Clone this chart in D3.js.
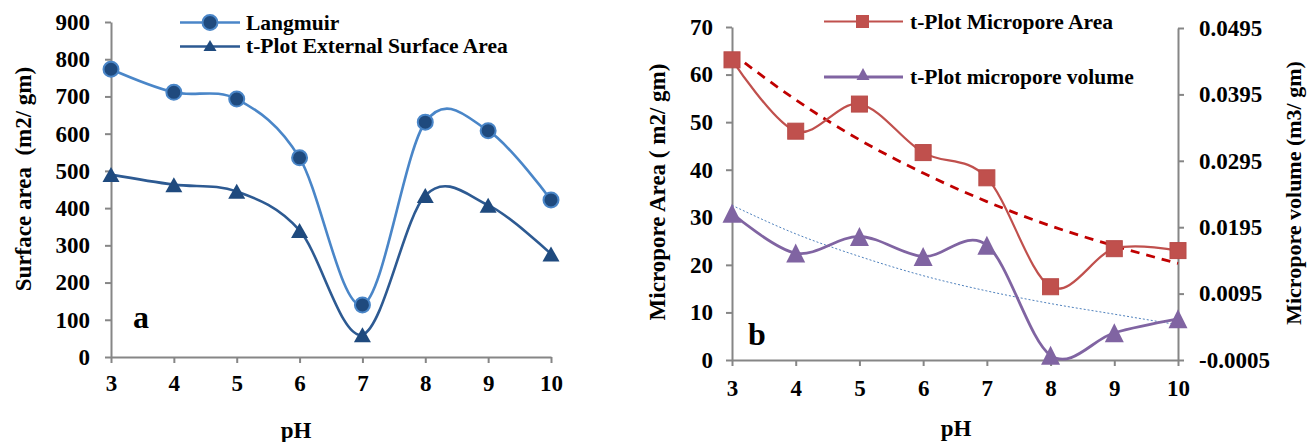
<!DOCTYPE html>
<html>
<head>
<meta charset="utf-8">
<script src="https://cdn.jsdelivr.net/npm/d3@7"></script>
<style>
  body { margin: 0; background: #fff; }
  svg text { font-family: "Liberation Serif", "Times New Roman", serif; font-weight: bold; fill: #000; white-space: pre; }
  .axis path, .axis line { stroke: #868686; stroke-width: 2; }
  .axis text { font-size: 23px; }
</style>
</head>
<body>
<svg id="chart" width="1308" height="442"></svg>
<script>
"use strict";

// shared categories
var pH = [3, 4, 5, 6, 7, 8, 9, 10];

// panel a
var langmuir = [773, 711, 693, 535, 140, 631, 608, 422];
var tPlotExternal = [490, 463, 445, 340, 60, 434, 408, 277];
var areaTicks = [0, 100, 200, 300, 400, 500, 600, 700, 800, 900];

// panel b
var microArea = [63.1, 48.1, 53.8, 43.6, 38.3, 15.4, 23.4, 23.0];
var microVolume = [0.0216, 0.0156, 0.0181, 0.0151, 0.0168, 0.0002, 0.0036, 0.0057];
var areaTrend = [64.5, 54.7, 46.3, 39.3, 33.3, 28.2, 24.0, 20.3];
var volumeTrend = [0.0228, 0.0185, 0.0151, 0.0122, 0.0099, 0.0080, 0.0064, 0.0048];
var microAreaTicks = [0, 10, 20, 30, 40, 50, 60, 70];
var volumeTicks = [-0.0005, 0.0095, 0.0195, 0.0295, 0.0395, 0.0495];

var svg = d3.select("#chart");
var smooth = d3.curveCatmullRom.alpha(0);
var fmtInt = d3.format("d");
var fmtVol = function (d) { return d3.format(".4f")(d).replace("\u2212", "-"); };

// triangle centred on its bounding box, like the spreadsheet markers
var triangle = function (cx, cy, w, h) {
  return "M" + cx + "," + (cy - h / 2) + "L" + (cx + w / 2) + "," + (cy + h / 2) + "L" + (cx - w / 2) + "," + (cy + h / 2) + "Z";
};

/* ---------- panel a ---------- */
var xa = d3.scaleLinear().domain([3, 10]).range([111, 551]);
var ya = d3.scaleLinear().domain([0, 900]).range([357, 22]);

svg.append("g").attr("class", "axis").attr("transform", "translate(0,357)")
  .call(d3.axisBottom(xa).tickValues(pH).tickFormat(fmtInt).tickSize(6).tickSizeOuter(0).tickPadding(12));
svg.append("g").attr("class", "axis").attr("transform", "translate(111,0)")
  .call(d3.axisLeft(ya).tickValues(areaTicks).tickFormat(fmtInt).tickSize(6).tickSizeOuter(0).tickPadding(15));

var lineA = function (vals) {
  return d3.line().x(function (d, i) { return xa(pH[i]); }).y(function (d) { return ya(d); }).curve(smooth)(vals);
};

svg.append("path").attr("d", lineA(tPlotExternal)).attr("fill", "none").attr("stroke", "#2d5a92").attr("stroke-width", 2.6);
svg.append("path").attr("d", lineA(langmuir)).attr("fill", "none").attr("stroke", "#4a86c8").attr("stroke-width", 2.6);

svg.selectAll(".tri-a").data(tPlotExternal).enter().append("path").attr("class", "tri-a")
  .attr("d", function (d, i) { return triangle(xa(pH[i]), ya(d), 17, 15); })
  .attr("fill", "#1f4a7e");
svg.selectAll(".circ-a").data(langmuir).enter().append("circle").attr("class", "circ-a")
  .attr("cx", function (d, i) { return xa(pH[i]); }).attr("cy", function (d) { return ya(d); })
  .attr("r", 7.5).attr("fill", "#1f4a7e").attr("stroke", "#4a86c8").attr("stroke-width", 2);

// legend a
svg.append("line").attr("x1", 180).attr("x2", 240).attr("y1", 22.5).attr("y2", 22.5).attr("stroke", "#4a86c8").attr("stroke-width", 2.6);
svg.append("circle").attr("cx", 210).attr("cy", 22.5).attr("r", 7.5).attr("fill", "#1f4a7e").attr("stroke", "#4a86c8").attr("stroke-width", 2);
svg.append("text").attr("x", 246).attr("y", 30).style("font-size", "21.5px").text("Langmuir");
svg.append("line").attr("x1", 180).attr("x2", 240).attr("y1", 46.5).attr("y2", 46.5).attr("stroke", "#2d5a92").attr("stroke-width", 2.6);
svg.append("path").attr("d", triangle(210, 45.5, 13, 11)).attr("fill", "#1f4a7e");
svg.append("text").attr("x", 246).attr("y", 53).style("font-size", "21.5px").text("t-Plot External Surface Area");

svg.append("text").attr("x", 133).attr("y", 328).style("font-size", "32px").text("a");
svg.append("text").attr("text-anchor", "middle").attr("x", 296).attr("y", 438).style("font-size", "23px").text("pH");
svg.append("text").attr("text-anchor", "middle").attr("transform", "translate(31,179) rotate(-90)")
  .style("font-size", "23px").text("Surface area  (m2/ gm)");

/* ---------- panel b ---------- */
var xb = d3.scaleLinear().domain([3, 10]).range([732, 1178]);
var yb = d3.scaleLinear().domain([0, 70]).range([360, 27]);
var yv = d3.scaleLinear().domain([-0.0005, 0.0495]).range([360, 28]);

svg.append("g").attr("class", "axis").attr("transform", "translate(0,360)")
  .call(d3.axisBottom(xb).tickValues(pH).tickFormat(fmtInt).tickSize(6).tickSizeOuter(0).tickPadding(14));
svg.append("g").attr("class", "axis").attr("transform", "translate(732,0)")
  .call(d3.axisLeft(yb).tickValues(microAreaTicks).tickFormat(fmtInt).tickSize(6).tickSizeOuter(0).tickPadding(13));
svg.append("g").attr("class", "axis").attr("transform", "translate(1178,0)")
  .call(d3.axisRight(yv).tickValues(volumeTicks).tickFormat(fmtVol).tickSize(6).tickSizeOuter(0).tickPadding(15));

var lineB = function (vals, y, curve) {
  return d3.line().x(function (d, i) { return xb(pH[i]); }).y(function (d) { return y(d); }).curve(curve)(vals);
};

// trend lines
svg.append("path").attr("d", lineB(volumeTrend, yv, d3.curveMonotoneX)).attr("fill", "none")
  .attr("stroke", "#4f81bd").attr("stroke-width", 1).attr("stroke-dasharray", "2,2");
svg.append("path").attr("d", lineB(areaTrend, yb, d3.curveMonotoneX)).attr("fill", "none")
  .attr("stroke", "#c00000").attr("stroke-width", 2.8).attr("stroke-dasharray", "9,7");

svg.append("path").attr("d", lineB(microArea, yb, smooth)).attr("fill", "none").attr("stroke", "#c0504d").attr("stroke-width", 2.2);
svg.append("path").attr("d", lineB(microVolume, yv, smooth)).attr("fill", "none").attr("stroke", "#8064a2").attr("stroke-width", 2.8);

svg.selectAll(".sq-b").data(microArea).enter().append("rect").attr("class", "sq-b")
  .attr("x", function (d, i) { return xb(pH[i]) - 8; }).attr("y", function (d) { return yb(d) - 8; })
  .attr("width", 16).attr("height", 16).attr("fill", "#c0504d").attr("stroke", "#b84b48").attr("stroke-width", 1);
svg.selectAll(".tri-b").data(microVolume).enter().append("path").attr("class", "tri-b")
  .attr("d", function (d, i) { return triangle(xb(pH[i]), yv(d), 19, 19); })
  .attr("fill", "#8064a2");

// legend b
svg.append("line").attr("x1", 824).attr("x2", 903).attr("y1", 21.5).attr("y2", 21.5).attr("stroke", "#c0504d").attr("stroke-width", 2.2);
svg.append("rect").attr("x", 856).attr("y", 15).attr("width", 13).attr("height", 13).attr("fill", "#c0504d");
svg.append("text").attr("x", 910).attr("y", 28.5).style("font-size", "21.5px").text("t-Plot Micropore Area");
svg.append("line").attr("x1", 824).attr("x2", 903).attr("y1", 77).attr("y2", 77).attr("stroke", "#8064a2").attr("stroke-width", 2.8);
svg.append("path").attr("d", triangle(863, 74, 13, 12)).attr("fill", "#8064a2");
svg.append("text").attr("x", 910).attr("y", 83.5).style("font-size", "21.5px").text("t-Plot micropore volume");

svg.append("text").attr("x", 748).attr("y", 345).style("font-size", "32px").text("b");
svg.append("text").attr("text-anchor", "middle").attr("x", 956).attr("y", 436).style("font-size", "23px").text("pH");
svg.append("text").attr("text-anchor", "middle").attr("transform", "translate(665,192) rotate(-90)")
  .style("font-size", "23px").text("Micropore Area ( m2/ gm)");
svg.append("text").attr("text-anchor", "middle").attr("transform", "translate(1301,193) rotate(-90)")
  .style("font-size", "22px").text("Micropore volume (m3/ gm)");
</script>
</body>
</html>
